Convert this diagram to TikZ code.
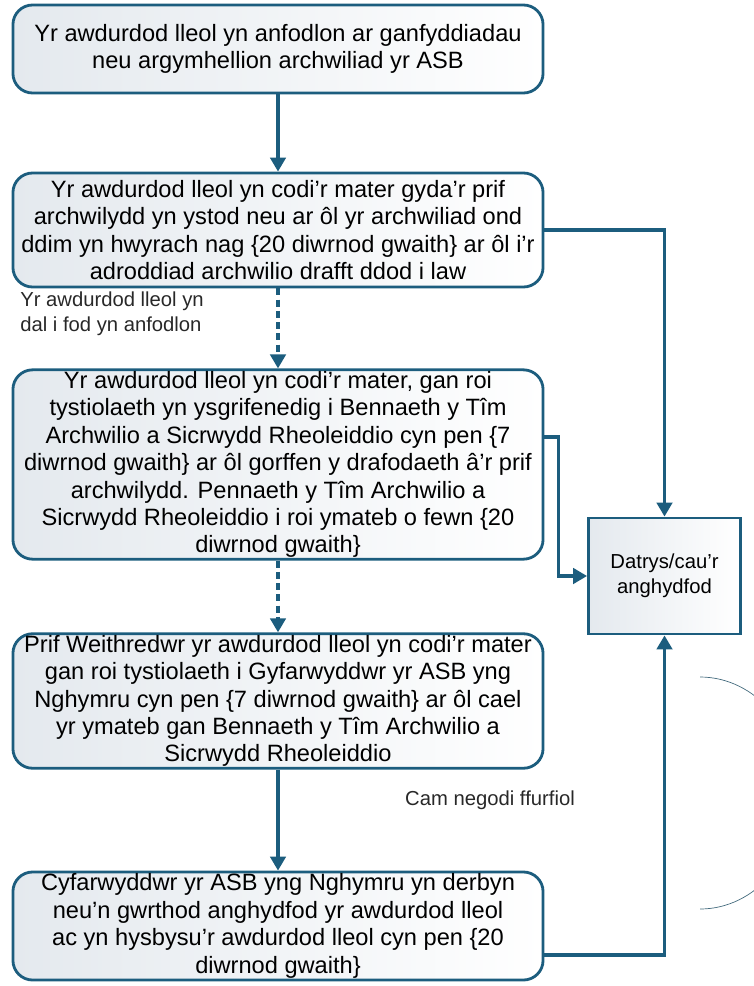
\documentclass[tikz,border=0pt]{standalone}
\usepackage{fontspec}
\setmainfont{Liberation Sans}
\usetikzlibrary{arrows.meta, positioning}

\definecolor{flowline}{RGB}{28,93,126}
\definecolor{boxfill}{RGB}{228,233,238}
\definecolor{notetext}{RGB}{40,40,40}

\begin{document}
\begin{tikzpicture}[x=0.025cm, y=-0.025cm,
    stepbox/.style={draw=flowline, line width=2pt, rounded corners=14pt,
        left color=boxfill, right color=white, align=center,
        minimum width=13.25cm, inner sep=1pt,
        font=\fontsize{16.8}{19.5}\selectfont},
    endbox/.style={draw=flowline, line width=2pt,
        left color=boxfill, right color=white, align=center,
        minimum width=3.8cm, minimum height=2.9cm,
        font=\fontsize{14.4}{18}\selectfont},
    note/.style={align=left, text=notetext, inner sep=0pt,
        font=\fontsize{14.4}{17.7}\selectfont},
    flow/.style={draw=flowline, line width=2.4pt,
        -{Triangle[width=11pt,length=10pt]}},
    maybe/.style={flow, dash pattern=on 5pt off 3pt}]
    \useasboundingbox (0,0) rectangle (754,986);

    	\node[stepbox, minimum height=2.2cm] (b1) at (278,49)
    	  {Yr awdurdod lleol yn anfodlon ar ganfyddiadau\\neu argymhellion archwiliad yr ASB};
    	\node[stepbox, minimum height=2.85cm] (b2) at (278,230)
    	  {Yr awdurdod lleol yn codi’r mater gyda’r prif\\archwilydd yn ystod neu ar ôl yr archwiliad ond\\ddim yn hwyrach nag \{20 diwrnod gwaith\} ar ôl i'r\\adroddiad archwilio drafft ddod i law};
    	\node[stepbox, minimum height=4.625cm] (b3) at (278,464.5)
    	  {Yr awdurdod lleol yn codi’r mater, gan roi\\tystiolaeth yn ysgrifenedig i Bennaeth y Tîm\\Archwilio a Sicrwydd Rheoleiddio cyn pen \{7\\diwrnod gwaith\} ar ôl gorffen y drafodaeth â’r prif\\archwilydd. Pennaeth y Tîm Archwilio a\\Sicrwydd Rheoleiddio i roi ymateb o fewn \{20\\diwrnod gwaith\}};
    	\node[stepbox, minimum height=3.2cm] (b4) at (278,701)
    	  {Prif Weithredwr yr awdurdod lleol yn codi’r mater\\gan roi tystiolaeth i Gyfarwyddwr yr ASB yng\\Nghymru cyn pen \{7 diwrnod gwaith\} ar ôl cael\\yr ymateb gan Bennaeth y Tîm Archwilio a\\Sicrwydd Rheoleiddio};
    	\node[stepbox, minimum height=2.7cm] (b5) at (278,926)
    	  {Cyfarwyddwr yr ASB yng Nghymru yn derbyn\\neu’n gwrthod anghydfod yr awdurdod lleol\\ac yn hysbysu’r awdurdod lleol cyn pen \{20\\diwrnod gwaith\}};
    	\node[endbox] (res) at (664.5,576) {Datrys/cau’r\\anghydfod};

    	\node[note, anchor=north west] (still) at (20,292)
    	  {Yr awdurdod lleol yn\\dal i fod yn anfodlon};
    	\node[note] (formal) at (490,800) {Cam negodi ffurfiol};

		\draw[flow] (b1) -- (b2);
		\draw[maybe] (b2) -- (b3);
		\draw[maybe] (b3) -- (b4);
		\draw[flow] (b4) -- (b5);
		\draw[flow] (b2.east) -| (res.north);
		\draw[flow] ([yshift=0.69cm]b3.east) -- ++(14,0) |- (res.west);
		\draw[flow] ([yshift=-0.72cm]b5.east) -| (res.south);

    	% bracket round the formal step
    	\begin{scope}
    	  \clip (700,0) rectangle (754,986);
    	  \draw[flowline!60!gray, line width=0.5pt] (700,793) ellipse [x radius=100, y radius=116];
    	\end{scope}
    \end{tikzpicture}
\end{document}
